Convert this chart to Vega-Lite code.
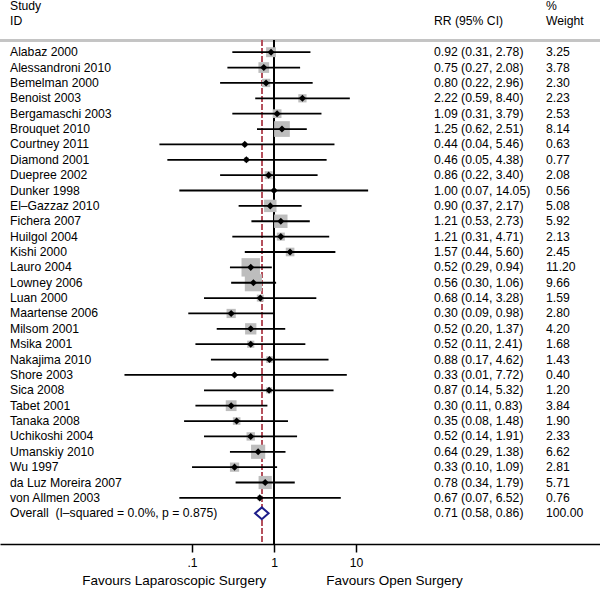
{
  "$schema": "https://vega.github.io/schema/vega-lite/v6.json",
  "width": 600,
  "height": 544,
  "autosize": "none",
  "padding": {"left": 0, "top": 0, "right": 0, "bottom": 50},
  "background": "white",
  "config": {
    "view": {"stroke": null},
    "font": "Liberation Sans",
    "text": {"font": "Liberation Sans", "fontSize": 12.2, "color": "black", "baseline": "middle", "align": "left"}
  },
  "datasets": {
    "rows": [
      {"label": "Study", "ci": "", "w": "%", "kind": "header"},
      {"label": "ID", "ci": "RR (95% CI)", "w": "Weight", "kind": "header"},
      {"label": "Alabaz 2000", "rr": 0.92, "lo": 0.31, "hi": 2.78, "weight": 3.25, "ci": "0.92 (0.31, 2.78)", "w": "3.25", "kind": "study"},
      {"label": "Alessandroni 2010", "rr": 0.75, "lo": 0.27, "hi": 2.08, "weight": 3.78, "ci": "0.75 (0.27, 2.08)", "w": "3.78", "kind": "study"},
      {"label": "Bemelman 2000", "rr": 0.80, "lo": 0.22, "hi": 2.96, "weight": 2.30, "ci": "0.80 (0.22, 2.96)", "w": "2.30", "kind": "study"},
      {"label": "Benoist 2003", "rr": 2.22, "lo": 0.59, "hi": 8.40, "weight": 2.23, "ci": "2.22 (0.59, 8.40)", "w": "2.23", "kind": "study"},
      {"label": "Bergamaschi 2003", "rr": 1.09, "lo": 0.31, "hi": 3.79, "weight": 2.53, "ci": "1.09 (0.31, 3.79)", "w": "2.53", "kind": "study"},
      {"label": "Brouquet 2010", "rr": 1.25, "lo": 0.62, "hi": 2.51, "weight": 8.14, "ci": "1.25 (0.62, 2.51)", "w": "8.14", "kind": "study"},
      {"label": "Courtney 2011", "rr": 0.44, "lo": 0.04, "hi": 5.46, "weight": 0.63, "ci": "0.44 (0.04, 5.46)", "w": "0.63", "kind": "study"},
      {"label": "Diamond 2001", "rr": 0.46, "lo": 0.05, "hi": 4.38, "weight": 0.77, "ci": "0.46 (0.05, 4.38)", "w": "0.77", "kind": "study"},
      {"label": "Duepree 2002", "rr": 0.86, "lo": 0.22, "hi": 3.40, "weight": 2.08, "ci": "0.86 (0.22, 3.40)", "w": "2.08", "kind": "study"},
      {"label": "Dunker 1998", "rr": 1.00, "lo": 0.07, "hi": 14.05, "weight": 0.56, "ci": "1.00 (0.07, 14.05)", "w": "0.56", "kind": "study"},
      {"label": "El–Gazzaz 2010", "rr": 0.90, "lo": 0.37, "hi": 2.17, "weight": 5.08, "ci": "0.90 (0.37, 2.17)", "w": "5.08", "kind": "study"},
      {"label": "Fichera 2007", "rr": 1.21, "lo": 0.53, "hi": 2.73, "weight": 5.92, "ci": "1.21 (0.53, 2.73)", "w": "5.92", "kind": "study"},
      {"label": "Huilgol 2004", "rr": 1.21, "lo": 0.31, "hi": 4.71, "weight": 2.13, "ci": "1.21 (0.31, 4.71)", "w": "2.13", "kind": "study"},
      {"label": "Kishi 2000", "rr": 1.57, "lo": 0.44, "hi": 5.60, "weight": 2.45, "ci": "1.57 (0.44, 5.60)", "w": "2.45", "kind": "study"},
      {"label": "Lauro 2004", "rr": 0.52, "lo": 0.29, "hi": 0.94, "weight": 11.20, "ci": "0.52 (0.29, 0.94)", "w": "11.20", "kind": "study"},
      {"label": "Lowney 2006", "rr": 0.56, "lo": 0.30, "hi": 1.06, "weight": 9.66, "ci": "0.56 (0.30, 1.06)", "w": "9.66", "kind": "study"},
      {"label": "Luan 2000", "rr": 0.68, "lo": 0.14, "hi": 3.28, "weight": 1.59, "ci": "0.68 (0.14, 3.28)", "w": "1.59", "kind": "study"},
      {"label": "Maartense 2006", "rr": 0.30, "lo": 0.09, "hi": 0.98, "weight": 2.80, "ci": "0.30 (0.09, 0.98)", "w": "2.80", "kind": "study"},
      {"label": "Milsom 2001", "rr": 0.52, "lo": 0.20, "hi": 1.37, "weight": 4.20, "ci": "0.52 (0.20, 1.37)", "w": "4.20", "kind": "study"},
      {"label": "Msika 2001", "rr": 0.52, "lo": 0.11, "hi": 2.41, "weight": 1.68, "ci": "0.52 (0.11, 2.41)", "w": "1.68", "kind": "study"},
      {"label": "Nakajima 2010", "rr": 0.88, "lo": 0.17, "hi": 4.62, "weight": 1.43, "ci": "0.88 (0.17, 4.62)", "w": "1.43", "kind": "study"},
      {"label": "Shore 2003", "rr": 0.33, "lo": 0.015, "hi": 7.72, "weight": 0.40, "ci": "0.33 (0.01, 7.72)", "w": "0.40", "kind": "study"},
      {"label": "Sica 2008", "rr": 0.87, "lo": 0.14, "hi": 5.32, "weight": 1.20, "ci": "0.87 (0.14, 5.32)", "w": "1.20", "kind": "study"},
      {"label": "Tabet 2001", "rr": 0.30, "lo": 0.11, "hi": 0.83, "weight": 3.84, "ci": "0.30 (0.11, 0.83)", "w": "3.84", "kind": "study"},
      {"label": "Tanaka 2008", "rr": 0.35, "lo": 0.08, "hi": 1.48, "weight": 1.90, "ci": "0.35 (0.08, 1.48)", "w": "1.90", "kind": "study"},
      {"label": "Uchikoshi 2004", "rr": 0.52, "lo": 0.14, "hi": 1.91, "weight": 2.33, "ci": "0.52 (0.14, 1.91)", "w": "2.33", "kind": "study"},
      {"label": "Umanskiy 2010", "rr": 0.64, "lo": 0.29, "hi": 1.38, "weight": 6.62, "ci": "0.64 (0.29, 1.38)", "w": "6.62", "kind": "study"},
      {"label": "Wu 1997", "rr": 0.33, "lo": 0.10, "hi": 1.09, "weight": 2.81, "ci": "0.33 (0.10, 1.09)", "w": "2.81", "kind": "study"},
      {"label": "da Luz Moreira 2007", "rr": 0.78, "lo": 0.34, "hi": 1.79, "weight": 5.71, "ci": "0.78 (0.34, 1.79)", "w": "5.71", "kind": "study"},
      {"label": "von Allmen 2003", "rr": 0.67, "lo": 0.07, "hi": 6.52, "weight": 0.76, "ci": "0.67 (0.07, 6.52)", "w": "0.76", "kind": "study"},
      {"label": "Overall\u00a0 (I–squared = 0.0%, p = 0.875)", "rr": 0.71, "lo": 0.58, "hi": 0.86, "weight": 100, "ci": "0.71 (0.58, 0.86)", "w": "100.00", "kind": "overall"}
    ]
  },
  "data": {"name": "rows"},
  "encoding": {
    "y": {
      "field": "label",
      "type": "nominal",
      "axis": null,
      "scale": {
        "type": "point",
        "padding": 0.198,
        "align": 1,
        "domain": ["Study", "ID", "gap", "Alabaz 2000", "Alessandroni 2010", "Bemelman 2000", "Benoist 2003", "Bergamaschi 2003", "Brouquet 2010", "Courtney 2011", "Diamond 2001", "Duepree 2002", "Dunker 1998", "El–Gazzaz 2010", "Fichera 2007", "Huilgol 2004", "Kishi 2000", "Lauro 2004", "Lowney 2006", "Luan 2000", "Maartense 2006", "Milsom 2001", "Msika 2001", "Nakajima 2010", "Shore 2003", "Sica 2008", "Tabet 2001", "Tanaka 2008", "Uchikoshi 2004", "Umanskiy 2010", "Wu 1997", "da Luz Moreira 2007", "von Allmen 2003", "Overall\u00a0 (I–squared = 0.0%, p = 0.875)", "gap2", "end"]
      }
    }
  },
  "layer": [
    {
      "mark": {"type": "rule", "color": "#c4c4c4", "strokeWidth": 2, "yOffset": 4},
      "encoding": {"y": {"datum": "gap"}}
    },
    {
      "mark": {"type": "rule", "color": "black", "strokeWidth": 1.5, "yOffset": 4},
      "encoding": {"x": {"datum": 1, "type": "quantitative"}, "y": {"datum": "gap"}, "y2": {"datum": "end"}}
    },
    {
      "mark": {"type": "rule", "color": "#b5505c", "strokeWidth": 1.5, "strokeDash": [5, 3], "yOffset": 4},
      "encoding": {"x": {"datum": 0.71, "type": "quantitative"}, "y": {"datum": "gap"}, "y2": {"datum": "end"}}
    },
    {
      "transform": [{"filter": "datum.kind === 'study'"}],
      "mark": {"type": "point", "shape": "square", "filled": true, "color": "#bdbdbd", "opacity": 1},
      "encoding": {
        "x": {"field": "rr", "type": "quantitative"},
        "size": {"field": "weight", "type": "quantitative", "scale": {"type": "linear", "domain": [0, 11.2], "range": [0, 340]}, "legend": null}
      }
    },
    {
      "transform": [{"filter": "datum.kind === 'study'"}],
      "mark": {"type": "rule", "color": "black", "strokeWidth": 1.8},
      "encoding": {
        "x": {
          "field": "lo",
          "type": "quantitative",
          "scale": {"type": "log", "domain": [0.000455, 9452], "nice": false},
          "axis": {
            "values": [0.1, 1, 10],
            "labelExpr": "datum.value < 0.5 ? '.1' : datum.value < 5 ? '1' : '10'",
            "grid": false,
            "domainColor": "black",
            "domainWidth": 1.5,
            "tickColor": "black",
            "tickWidth": 1.5,
            "tickSize": 8,
            "labelFontSize": 12.2,
            "labelColor": "black",
            "labelPadding": 4,
            "labelFont": "Liberation Sans",
            "title": "Favours Laparoscopic Surgery\u00a0\u00a0\u00a0\u00a0\u00a0\u00a0\u00a0\u00a0\u00a0\u00a0\u00a0\u00a0\u00a0\u00a0\u00a0\u00a0Favours Open Surgery",
            "titleFont": "Liberation Sans",
            "titleFontSize": 13.5,
            "titleFontWeight": "normal",
            "titleColor": "black",
            "titleX": 272,
            "titleY": 36,
            "titleAlign": "center",
            "titleBaseline": "middle"
          }
        },
        "x2": {"field": "hi"}
      }
    },
    {
      "transform": [{"filter": "datum.kind === 'study'"}],
      "mark": {"type": "point", "shape": "diamond", "filled": true, "color": "black", "size": 50, "opacity": 1},
      "encoding": {"x": {"field": "rr", "type": "quantitative"}}
    },
    {
      "transform": [{"filter": "datum.kind === 'overall'"}],
      "mark": {"type": "point", "shape": "M-1,0L0,-0.87L1,0L0,0.87Z", "filled": true, "fill": "white", "stroke": "#1c1c8a", "strokeWidth": 2, "size": 182, "opacity": 1},
      "encoding": {"x": {"field": "rr", "type": "quantitative"}}
    },
    {
      "mark": {"type": "text", "x": 10},
      "encoding": {"text": {"field": "label"}}
    },
    {
      "mark": {"type": "text", "x": 434},
      "encoding": {"text": {"field": "ci"}}
    },
    {
      "mark": {"type": "text", "x": 546},
      "encoding": {"text": {"field": "w"}}
    }
  ]
}
